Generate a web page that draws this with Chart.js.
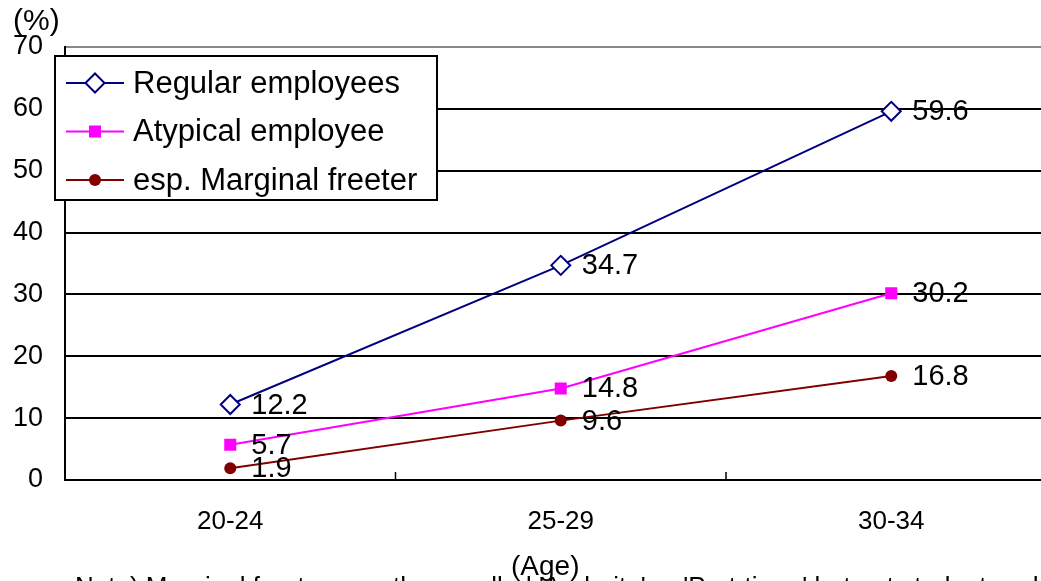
<!DOCTYPE html>
<html>
<head>
<meta charset="utf-8">
<script src="https://cdn.jsdelivr.net/npm/chart.js@4.4.0/dist/chart.umd.min.js"></script>
<style>
    body { margin: 0; background: #fff; overflow: hidden; }
    #amb { position: relative; width: 1041px; height: 581px; overflow: hidden; font-family: "Liberation Sans", Arial, sans-serif; }
    #grafico { position: absolute; left: 0; top: 0; }
    .txt { position: absolute; color: #000; white-space: nowrap; line-height: 1; }
</style>
</head>
<body>
<div id="amb">
    <canvas id="grafico" width="1068" height="581"></canvas>
    <div class="txt" style="left:13px; top:5px; font-size:30px;">(%)</div>
    <div class="txt" style="left:75px; top:573px; font-size:26px;">Note) Marginal freeters are those called 'Arubaito' or 'Part-timer' but not students, who are self</div>
    <div class="txt" style="left:511px; top:552px; font-size:28px;">(Age)</div>
</div>
<script>
// dados do grafico
const categorias = ['20-24', '25-29', '30-34'];
const regulares = [12.2, 34.7, 59.6];
const atipicos = [5.7, 14.8, 30.2];
const marginais = [1.9, 9.6, 16.8];
const ticksY = [0, 10, 20, 30, 40, 50, 60, 70];

Chart.defaults.font.family = '"Liberation Sans", Arial, sans-serif';
Chart.defaults.color = '#000';

// desenha o marcador de cada serie (legenda)
function desenharMarcador(ctx, ds, x, y) {
    ctx.save();
    ctx.fillStyle = ds.pointBackgroundColor;
    ctx.strokeStyle = ds.pointBorderColor;
    ctx.lineWidth = ds.pointBorderWidth;
    const r = ds.pointRadius;
    ctx.beginPath();
    if (ds.pointStyle === 'rectRot') {
        ctx.moveTo(x - r, y);
        ctx.lineTo(x, y - r);
        ctx.lineTo(x + r, y);
        ctx.lineTo(x, y + r);
        ctx.closePath();
    } else if (ds.pointStyle === 'rect') {
        const s = Math.SQRT1_2 * r;
        ctx.rect(x - s, y - s, 2 * s, 2 * s);
    } else {
        ctx.arc(x, y, r, 0, Math.PI * 2);
    }
    ctx.fill();
    if (ds.pointBorderWidth > 0) ctx.stroke();
    ctx.restore();
}

const pluginExtras = {
    id: 'extras',
    afterDatasetsDraw(chart) {
        const ctx = chart.ctx;
        ctx.save();
        ctx.font = '29px "Liberation Sans", Arial, sans-serif';
        ctx.fillStyle = '#000';
        ctx.textAlign = 'left';
        ctx.textBaseline = 'middle';
        chart.data.datasets.forEach(function (ds, i) {
            chart.getDatasetMeta(i).data.forEach(function (p, j) {
                ctx.fillText(ds.data[j].toFixed(1), p.x + 21, p.y + 1);
            });
        });
        ctx.restore();
    },
    afterDraw(chart) {
        const ctx = chart.ctx;
        const area = chart.chartArea;
        const x = chart.scales.x;

        // marcas internas do eixo x
        ctx.save();
        ctx.strokeStyle = '#000';
        ctx.lineWidth = 1.5;
        for (let i = 0; i < categorias.length; i++) {
            const px = x.getPixelForValue(i + 0.5);
            ctx.beginPath();
            ctx.moveTo(px, area.bottom - 8);
            ctx.lineTo(px, area.bottom);
            ctx.stroke();
        }
        ctx.restore();

        // legenda
        const lx = area.left - 10;
        const ly = area.top + 9;
        ctx.save();
        ctx.fillStyle = '#fff';
        ctx.fillRect(lx, ly, 382, 144);
        ctx.strokeStyle = '#000';
        ctx.lineWidth = 2;
        ctx.strokeRect(lx, ly, 382, 144);
        ctx.font = '31px "Liberation Sans", Arial, sans-serif';
        ctx.textBaseline = 'middle';
        chart.data.datasets.forEach(function (ds, i) {
            const yy = ly + 27 + i * 48.5;
            ctx.strokeStyle = ds.borderColor;
            ctx.lineWidth = ds.borderWidth;
            ctx.beginPath();
            ctx.moveTo(lx + 11, yy);
            ctx.lineTo(lx + 69, yy);
            ctx.stroke();
            desenharMarcador(ctx, ds, lx + 40, yy);
            ctx.fillStyle = '#000';
            ctx.fillText(ds.label, lx + 78, yy + 1);
        });
        ctx.restore();
    }
};

const data = {
    labels: categorias,
    datasets: [{
        label: 'Regular employees',
        data: regulares,
        borderColor: '#000080',
        borderWidth: 2,
        pointStyle: 'rectRot',
        pointRadius: 9.5,
        pointBackgroundColor: '#ffffff',
        pointBorderColor: '#000080',
        pointBorderWidth: 2,
    }, {
        label: 'Atypical employee',
        data: atipicos,
        borderColor: '#ff00ff',
        borderWidth: 2,
        pointStyle: 'rect',
        pointRadius: 8.5,
        pointBackgroundColor: '#ff00ff',
        pointBorderColor: '#ff00ff',
        pointBorderWidth: 0,
    }, {
        label: 'esp. Marginal freeter',
        data: marginais,
        borderColor: '#800000',
        borderWidth: 2,
        pointStyle: 'circle',
        pointRadius: 6,
        pointBackgroundColor: '#800000',
        pointBorderColor: '#800000',
        pointBorderWidth: 0,
    }]
};

const config = {
    type: 'line',
    data: data,
    plugins: [pluginExtras],
    options: {
        responsive: false,
        animation: false,
        layout: { padding: { top: 47, right: 5, left: 0, bottom: 0 } },
        plugins: {
            legend: { display: false },
            tooltip: { enabled: false }
        },
        scales: {
            y: {
                min: 0,
                max: 70,
                afterBuildTicks: function (s) { s.ticks = ticksY.map(v => ({ value: v })); },
                afterFit: function (s) { s.width = 65; },
                ticks: {
                    padding: 22,
                    font: { size: 27 },
                    color: '#000'
                },
                grid: {
                    color: ctx => (ctx.tick && ctx.tick.value === 70) ? '#888888' : '#000000',
                    lineWidth: 2,
                    drawTicks: false
                },
                border: { display: true, color: '#000', width: 2 }
            },
            x: {
                offset: true,
                afterFit: function (s) { s.height = 101; },
                ticks: {
                    padding: 26,
                    font: { size: 26 },
                    color: '#000',
                    maxRotation: 0
                },
                grid: { drawOnChartArea: false, drawTicks: false },
                border: { display: true, color: '#000', width: 2 }
            }
        }
    }
};

const meuGrafico = new Chart(document.getElementById('grafico'), config);
</script>
</body>
</html>
